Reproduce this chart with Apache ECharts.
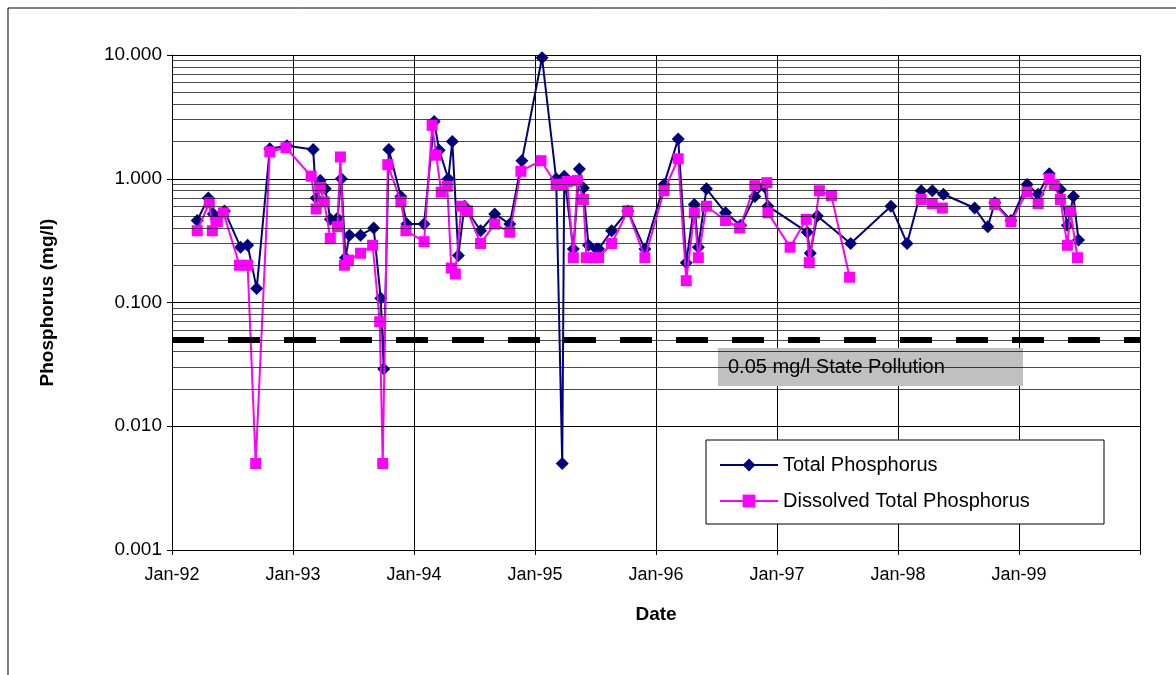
<!DOCTYPE html>
<html>
<head>
<meta charset="utf-8">
<script src="https://cdn.jsdelivr.net/npm/echarts@6/dist/echarts.min.js"></script>
<style>html,body{margin:0;padding:0;background:#fff}#chart{width:1176px;height:675px}</style>
</head>
<body>
<div id="chart"></div>
<script>
// months since Jan-92, mg/l
const tpMonths = [2.5,3.6,4.1,5.2,6.8,7.5,8.4,9.7,11.4,14.0,14.3,14.7,15.2,15.7,16.4,16.8,17.2,17.6,18.7,20.0,20.7,21.0,21.5,22.7,23.3,25.0,26.0,26.5,27.4,27.8,28.4,29.0,30.6,32.0,33.5,34.7,36.7,38.1,38.7,38.9,39.8,40.4,40.8,41.3,42.1,42.3,43.6,45.2,46.9,48.8,50.2,51.0,51.8,52.2,53.0,54.9,56.4,57.8,58.7,59.1,63.0,63.3,64.0,67.3,71.3,72.9,74.3,75.4,76.5,79.6,80.9,81.6,83.2,84.8,85.9,87.0,88.1,88.8,89.4,89.9];
const tpValues = [0.46,0.70,0.52,0.55,0.28,0.29,0.13,1.75,1.85,1.72,0.70,0.97,0.83,0.47,0.48,1.00,0.23,0.35,0.35,0.40,0.108,0.029,1.72,0.72,0.43,0.43,2.9,1.7,1.0,2.0,0.24,0.60,0.38,0.52,0.43,1.4,9.5,1.0,0.005,1.05,0.27,1.2,0.84,0.29,0.27,0.27,0.38,0.55,0.27,0.90,2.1,0.21,0.62,0.28,0.83,0.53,0.42,0.72,0.87,0.60,0.37,0.25,0.50,0.30,0.60,0.30,0.80,0.80,0.75,0.58,0.41,0.64,0.46,0.90,0.75,1.1,0.82,0.42,0.72,0.32];
const dtpMonths = [2.5,3.7,4.0,4.5,5.1,6.7,7.5,8.3,9.7,11.3,13.8,14.3,14.7,15.1,15.7,16.4,16.7,17.1,17.5,18.7,19.9,20.6,20.9,21.4,22.7,23.2,25.0,25.8,26.2,26.7,27.3,27.7,28.1,28.7,29.3,30.6,32.0,33.5,34.6,36.6,38.1,38.6,39.2,39.8,40.2,40.8,41.1,41.7,42.3,43.6,45.2,46.9,48.8,50.2,51.0,51.8,52.2,53.0,54.9,56.3,57.8,59.0,59.1,61.3,62.9,63.2,64.2,65.4,67.2,70.0,74.3,75.4,76.4,79.0,81.6,83.2,84.8,85.9,87.0,87.5,88.1,88.8,89.1,89.8];
const dtpValues = [0.38,0.64,0.38,0.45,0.53,0.20,0.20,0.005,1.65,1.78,1.05,0.57,0.85,0.65,0.33,0.41,1.5,0.20,0.22,0.25,0.29,0.07,0.005,1.3,0.65,0.38,0.31,2.7,1.55,0.78,0.87,0.19,0.17,0.60,0.55,0.30,0.43,0.37,1.15,1.4,0.9,0.9,0.95,0.23,0.97,0.68,0.23,0.23,0.23,0.30,0.55,0.23,0.80,1.45,0.15,0.53,0.23,0.60,0.46,0.40,0.88,0.93,0.53,0.28,0.47,0.21,0.80,0.73,0.16,null,0.68,0.63,0.58,null,0.62,0.45,0.78,0.63,1.0,0.9,0.68,0.29,0.55,0.23];
const xLabels = ['Jan-92','Jan-93','Jan-94','Jan-95','Jan-96','Jan-97','Jan-98','Jan-99',''];
const decades = [0.001,0.01,0.1,1];
const stateLimit = 0.05;

const minorLines = [];
decades.forEach(d => { for (let k = 2; k <= 9; k++) minorLines.push({ yAxis: +(d * k).toPrecision(3) }); });

const font = 'Arial, "Liberation Sans", sans-serif';
const chart = echarts.init(document.getElementById('chart'));
chart.setOption({
  animation: false,
  grid: { left: 172, right: 36, top: 55, bottom: 125 },
  xAxis: {
    type: 'value', min: 0, max: 96, interval: 12,
    name: 'Date', nameLocation: 'middle', nameGap: 55,
    nameTextStyle: { fontFamily: font, fontSize: 19, fontWeight: 'bold', color: '#000' },
    axisLine: { onZero: false, lineStyle: { color: '#000', width: 1 } },
    axisTick: { show: true, length: 5, lineStyle: { color: '#000' } },
    axisLabel: { formatter: v => xLabels[v / 12], fontFamily: font, fontSize: 18, color: '#000', margin: 16 },
    splitLine: { show: true, lineStyle: { color: '#000', width: 1 } }
  },
  yAxis: {
    type: 'log', logBase: 10, min: 0.001, max: 10,
    name: 'Phosphorus (mg/l)', nameLocation: 'middle', nameGap: 115, nameRotate: 90,
    nameTextStyle: { fontFamily: font, fontSize: 19, fontWeight: 'bold', color: '#000' },
    axisLine: { show: true, lineStyle: { color: '#000' } },
    axisTick: { show: true, length: 5, lineStyle: { color: '#000' } },
    axisLabel: { formatter: v => v.toFixed(3), fontFamily: font, fontSize: 19, color: '#000', margin: 10 },
    splitLine: { show: true, lineStyle: { color: '#000', width: 1 } }
  },
  legend: {
    orient: 'vertical', left: 714, top: 450, itemGap: 16, itemWidth: 58, itemHeight: 16, z: 20,
    textStyle: { fontFamily: font, fontSize: 20, color: '#000' },
    data: ['Total Phosphorus', 'Dissolved Total Phosphorus']
  },
  series: [
    {
      name: 'grid', type: 'line', data: [], silent: true,
      markLine: { symbol: 'none', silent: true, label: { show: false },
        lineStyle: { color: '#000', width: 1, type: 'solid', opacity: 0.7 }, data: minorLines }
    },
    {
      name: 'limit', type: 'line', data: [], silent: true,
      markLine: { symbol: 'none', silent: true, label: { show: false },
        lineStyle: { color: '#000', width: 6, type: [32, 24] }, data: [{ yAxis: stateLimit }] }
    },
    {
      name: 'Total Phosphorus', type: 'line', symbol: 'diamond', symbolSize: 13,
      lineStyle: { color: '#000080', width: 2 }, itemStyle: { color: '#000080' },
      data: tpMonths.map((m, i) => [m, tpValues[i]]), z: 3
    },
    {
      name: 'Dissolved Total Phosphorus', type: 'line', symbol: 'rect', symbolSize: 11,
      lineStyle: { color: '#ff00ff', width: 2 }, itemStyle: { color: '#ff00ff' },
      connectNulls: false,
      data: dtpMonths.map((m, i) => [m, dtpValues[i]]), z: 4
    }
  ],
  graphic: [
    { type: 'rect', shape: { x: 8, y: 8, width: 1180, height: 700 }, style: { fill: 'none', stroke: '#000', lineWidth: 1 } },
    { type: 'rect', shape: { x: 706, y: 440, width: 398, height: 84 }, style: { fill: '#fff', stroke: '#000', lineWidth: 1 }, z: 5 },
    { type: 'rect', shape: { x: 718, y: 348, width: 305, height: 38 }, style: { fill: '#c0c0c0', stroke: 'none' }, z: 5 },
    { type: 'text', x: 728, y: 357, style: { text: '0.05 mg/l State Pollution', font: '20px ' + font, fill: '#000' }, z: 6 }
  ]
});
</script>
</body>
</html>
